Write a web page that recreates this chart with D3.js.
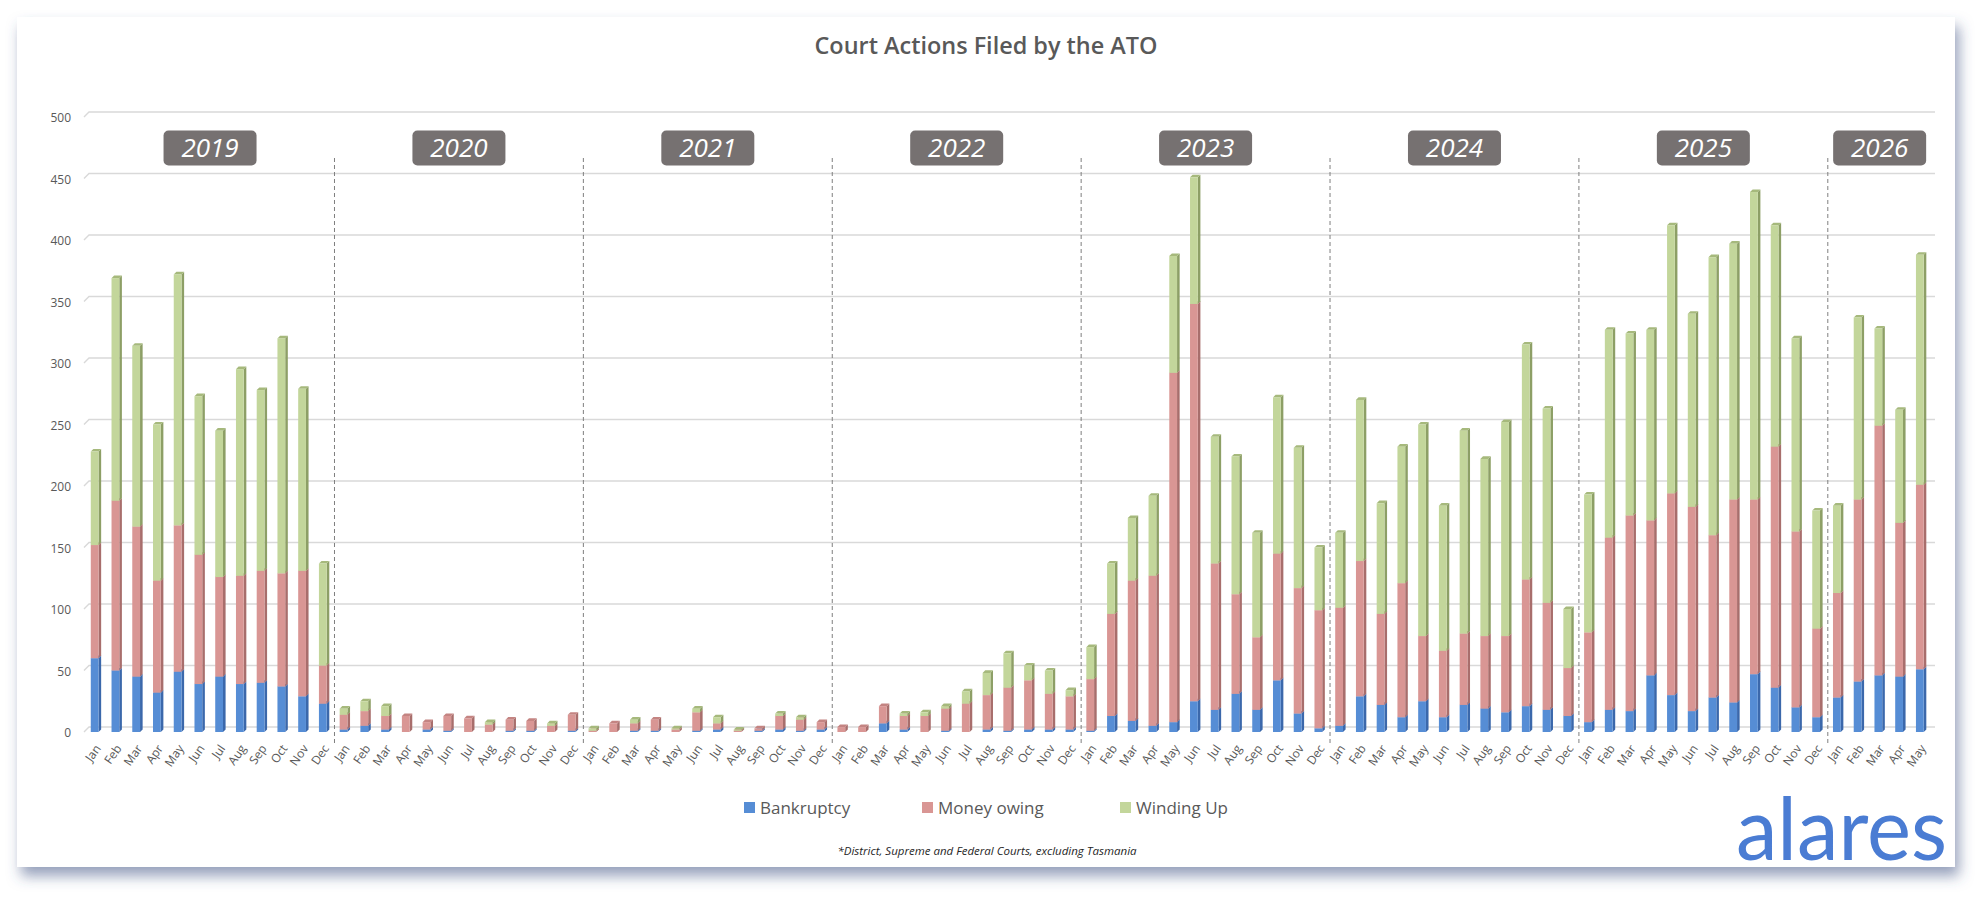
<!DOCTYPE html>
<html lang="en">
<head>
<meta charset="UTF-8">
<title>Court Actions Filed by the ATO</title>
<script src="https://cdn.jsdelivr.net/npm/d3@7"></script>
<style>
  body { margin: 0; background: #fff; }
  text { font-family: "Open Sans", sans-serif; }
</style>
</head>
<body>
<script>
  // ---- data ----
  var years = ['2019', '2020', '2021', '2022', '2023', '2024', '2025', '2026'];
  var monthNames = ['Jan', 'Feb', 'Mar', 'Apr', 'May', 'Jun', 'Jul', 'Aug', 'Sep', 'Oct', 'Nov', 'Dec'];
  var monthsShown = [12, 12, 12, 12, 12, 12, 12, 5];
  var seriesNames = ['Bankruptcy', 'Money owing', 'Winding Up'];

  var bankruptcy = [
    60, 50, 45, 32, 49, 39, 45, 39, 40, 37, 29, 23,   // 2019
    2, 5, 2, 0, 2, 1, 0, 0, 1, 1, 0, 1,               // 2020
    0, 0, 1, 1, 0, 1, 2, 0, 1, 2, 1, 2,               // 2021
    0, 0, 7, 2, 0, 1, 0, 2, 1, 2, 2, 2,               // 2022
    1, 13, 9, 5, 8, 25, 18, 31, 18, 42, 15, 3,        // 2023
    5, 29, 22, 12, 25, 12, 22, 19, 16, 21, 18, 13,    // 2024
    8, 18, 17, 46, 30, 17, 28, 24, 47, 36, 20, 12,    // 2025
    28, 41, 46, 45, 51                                // 2026
  ];
  var moneyOwing = [
    92, 138, 122, 91, 119, 105, 81, 88, 91, 92, 102, 31,
    12, 12, 11, 13, 6, 12, 11, 6, 9, 8, 5, 13,
    1, 7, 6, 9, 2, 15, 5, 1, 2, 11, 9, 6,
    4, 4, 14, 11, 13, 18, 23, 28, 35, 40, 29, 27,
    42, 83, 114, 122, 284, 323, 119, 81, 59, 103, 102, 96,
    96, 110, 74, 109, 53, 54, 58, 59, 62, 103, 87, 39,
    73, 140, 159, 126, 164, 166, 132, 165, 142, 196, 143, 72,
    85, 148, 203, 125, 150
  ];
  var windingUp = [
    76, 181, 147, 127, 204, 129, 119, 168, 147, 191, 148, 83,
    5, 8, 8, 0, 0, 0, 0, 2, 0, 0, 2, 0,
    2, 0, 3, 0, 1, 3, 5, 1, 0, 2, 2, 0,
    0, 0, 0, 2, 3, 2, 10, 18, 28, 12, 19, 5,
    26, 41, 51, 65, 95, 103, 103, 112, 85, 127, 114, 51,
    61, 131, 90, 111, 172, 118, 165, 144, 174, 191, 158, 48,
    112, 169, 148, 155, 218, 157, 226, 208, 250, 180, 157, 96,
    71, 148, 79, 92, 187
  ];
  var yTicks = [0, 50, 100, 150, 200, 250, 300, 350, 400, 450, 500];

  // ---- styling ----
  var W = 1986, H = 902;
  var colors = {
    'Bankruptcy':  { front: '#568dd5', side: '#3b68ab', top: '#4a7cc2' },
    'Money owing': { front: '#d99694', side: '#a86e6c', top: '#c48482' },
    'Winding Up':  { front: '#c3d69b', side: '#8d9f66', top: '#a6b97c' }
  };
  var depth = 2.6;      // 3D offset of the columns
  var wall = 5;         // offset of the back wall gridlines

  // rows, one per month
  var rows = [];
  var idx = 0;
  years.forEach(function(yr, yi) {
    for (var m = 0; m < monthsShown[yi]; m++) {
      rows.push({
        key: yr + '-' + m,
        year: yr,
        month: monthNames[m],
        'Bankruptcy': bankruptcy[idx],
        'Money owing': moneyOwing[idx],
        'Winding Up': windingUp[idx]
      });
      idx++;
    }
  });

  var svg = d3.select('body').append('svg').attr('width', W).attr('height', H);

  var defs = svg.append('defs');
  defs.append('filter').attr('id', 'shadow')
    .attr('x', '-5%').attr('y', '-5%').attr('width', '110%').attr('height', '115%')
    .append('feDropShadow')
    .attr('dx', 4).attr('dy', 9).attr('stdDeviation', 7)
    .attr('flood-color', '#3f5283').attr('flood-opacity', 0.55);

  // card
  svg.append('rect')
    .attr('x', 17).attr('y', 17).attr('width', 1938).attr('height', 850)
    .attr('fill', '#fff').attr('filter', 'url(#shadow)');

  var x = d3.scaleBand()
    .domain(rows.map(function(d) { return d.key; }))
    .range([85.6, 1931.5])
    .paddingInner(0.5)
    .paddingOuter(0.25);
  var y = d3.scaleLinear().domain([0, 500]).range([732, 117]);

  var bw = x.bandwidth();
  var fw = bw - depth;
  var step = x.step();

  // gridlines on the back wall, with the short diagonal on the side wall
  svg.append('g').selectAll('path').data(yTicks).enter().append('path')
    .attr('d', function(t) {
      var yy = y(t);
      return 'M84,' + yy + 'L' + (84 + wall) + ',' + (yy - wall) + 'L1935,' + (yy - wall);
    })
    .attr('fill', 'none').attr('stroke', '#d9d9d9').attr('stroke-width', 1.4);

  // y axis labels
  var yAxis = svg.append('g').attr('transform', 'translate(74,1)')
    .call(d3.axisLeft(y).tickValues(yTicks).tickSize(0).tickPadding(3));
  yAxis.select('.domain').remove();
  yAxis.selectAll('text').attr('font-size', 12).attr('fill', '#595959')
    .style('font-family', '"Open Sans", sans-serif');

  // year separators
  var firstOfYear = rows.filter(function(d, i) { return i > 0 && d.month === 'Jan'; });
  svg.append('g').selectAll('line').data(firstOfYear).enter().append('line')
    .attr('x1', function(d) { return x(d.key) + bw / 2 - step / 2; })
    .attr('x2', function(d) { return x(d.key) + bw / 2 - step / 2; })
    .attr('y1', 158).attr('y2', 746)
    .attr('stroke', '#7f7f7f').attr('stroke-width', 1).attr('stroke-dasharray', '4,3');

  // stacked 3D columns
  var stacked = d3.stack().keys(seriesNames)(rows);

  var layers = svg.append('g').selectAll('g.layer').data(stacked).enter()
    .append('g').attr('class', 'layer');

  var segs = layers.selectAll('g.seg')
    .data(function(layer) {
      return layer.filter(function(s) { return s[1] > s[0]; })
        .map(function(s) { return { key: s.data.key, y0: s[0], y1: s[1], name: layer.key }; });
    })
    .enter().append('g').attr('class', 'seg');

  segs.append('path')
    .attr('d', function(d) {
      var x0 = x(d.key), yt = y(d.y1), yb = y(d.y0);
      return 'M' + (x0 + fw) + ',' + yb + 'L' + (x0 + fw + depth) + ',' + (yb - depth) +
        'L' + (x0 + fw + depth) + ',' + (yt - depth) + 'L' + (x0 + fw) + ',' + yt + 'Z';
    })
    .attr('fill', function(d) { return colors[d.name].side; });

  segs.append('path')
    .attr('d', function(d) {
      var x0 = x(d.key), yt = y(d.y1);
      return 'M' + x0 + ',' + yt + 'L' + (x0 + depth) + ',' + (yt - depth) +
        'L' + (x0 + fw + depth) + ',' + (yt - depth) + 'L' + (x0 + fw) + ',' + yt + 'Z';
    })
    .attr('fill', function(d) { return colors[d.name].top; });

  segs.append('rect')
    .attr('x', function(d) { return x(d.key); })
    .attr('y', function(d) { return y(d.y1); })
    .attr('width', fw)
    .attr('height', function(d) { return y(d.y0) - y(d.y1); })
    .attr('fill', function(d) { return colors[d.name].front; });

  // month labels
  var xAxis = svg.append('g').attr('transform', 'translate(0,738)')
    .call(d3.axisBottom(x).tickSize(0).tickFormat(function(k) {
      return monthNames[+k.split('-')[1]];
    }));
  xAxis.select('.domain').remove();
  xAxis.selectAll('text')
    .attr('x', 0).attr('y', 0).attr('dy', '0.35em')
    .attr('text-anchor', 'end')
    .attr('transform', 'translate(2,8) rotate(-55)')
    .attr('font-size', 12).attr('fill', '#595959')
    .style('font-family', '"Open Sans", sans-serif');

  // year badges
  var yearCenters = years.map(function(yr) {
    var r = rows.filter(function(d) { return d.year === yr; });
    var a = x(r[0].key) + bw / 2, b = x(r[r.length - 1].key) + bw / 2;
    return { year: yr, cx: (a + b) / 2 };
  });
  var badge = svg.append('g').selectAll('g').data(yearCenters).enter().append('g')
    .attr('transform', function(d) { return 'translate(' + d.cx + ',148)'; });
  badge.append('rect')
    .attr('x', -46.5).attr('y', -17.5).attr('width', 93).attr('height', 35)
    .attr('rx', 5).attr('fill', '#767171');
  badge.append('text')
    .attr('text-anchor', 'middle').attr('dy', '0.36em')
    .attr('font-size', 26).attr('font-style', 'italic').attr('fill', '#fff')
    .text(function(d) { return d.year; });

  // title
  svg.append('text')
    .attr('x', 986).attr('y', 54).attr('text-anchor', 'middle')
    .attr('font-size', 24).attr('font-weight', 600).attr('fill', '#595959')
    .attr('textLength', 343).attr('lengthAdjust', 'spacingAndGlyphs')
    .text('Court Actions Filed by the ATO');

  // legend
  var legendX = [744, 922, 1120];
  var legend = svg.append('g').selectAll('g').data(seriesNames).enter().append('g')
    .attr('transform', function(d, i) { return 'translate(' + legendX[i] + ',802)'; });
  legend.append('rect').attr('width', 11).attr('height', 11)
    .attr('fill', function(d) { return colors[d].front; });
  legend.append('text').attr('x', 16).attr('y', 12)
    .attr('font-size', 17).attr('fill', '#595959')
    .text(function(d) { return d; });

  // footnote
  svg.append('text')
    .attr('x', 987).attr('y', 855).attr('text-anchor', 'middle')
    .attr('font-size', 11.5).attr('font-style', 'italic').attr('fill', '#262626')
    .text('*District, Supreme and Federal Courts, excluding Tasmania');

  // logo
  svg.append('text')
    .attr('x', 1947).attr('y', 860).attr('text-anchor', 'end')
    .style('font-family', 'Lato, sans-serif')
    .attr('font-size', 88).attr('font-weight', 400).attr('fill', '#4a7cd3')
    .attr('textLength', 211).attr('lengthAdjust', 'spacingAndGlyphs')
    .text('alares');
</script>
</body>
</html>
